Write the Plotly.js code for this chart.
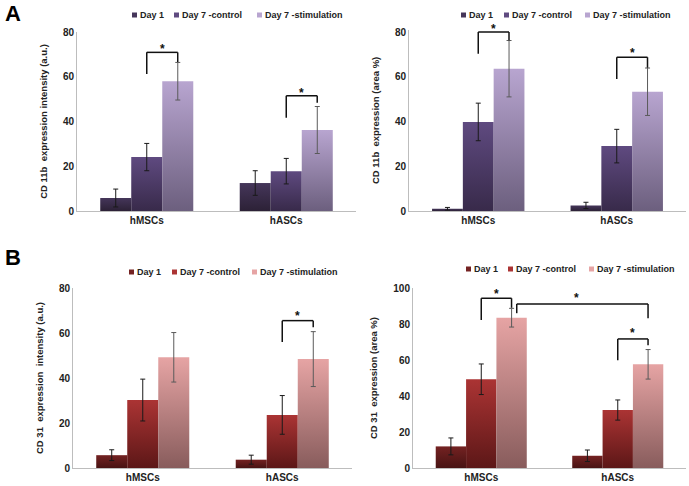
<!DOCTYPE html>
<html><head><meta charset="utf-8">
<script src="https://cdn.plot.ly/plotly-3.0.1.min.js"></script>
<style>html,body{margin:0;padding:0;background:#fff}#chart{width:689px;height:486px}</style>
</head><body><div id="chart"></div>
<script>
// ---------- data ----------
const categories = ['hMSCs', 'hASCs'];
const seriesNames = ['Day 1', 'Day 7 -control', 'Day 7 -stimulation'];

// A (left): CD 11b expression intensity (a.u.)
const cd11bIntDay1 = [5.8, 12.5];
const cd11bIntDay1Err = [4.0, 5.5];
const cd11bIntCtrl = [24.1, 17.8];
const cd11bIntCtrlErr = [6.1, 5.7];
const cd11bIntStim = [58.0, 36.2];
const cd11bIntStimErr = [8.4, 10.5];

// A (right): CD 11b expression (area %)
const cd11bAreaDay1 = [1.0, 2.5];
const cd11bAreaDay1Err = [0.6, 1.4];
const cd11bAreaCtrl = [39.8, 29.0];
const cd11bAreaCtrlErr = [8.4, 7.5];
const cd11bAreaStim = [63.6, 53.3];
const cd11bAreaStimErr = [12.6, 10.6];

// B (left): CD 31 expression intensity (a.u.)
const cd31IntDay1 = [5.7, 3.7];
const cd31IntDay1Err = [2.4, 2.0];
const cd31IntCtrl = [30.2, 23.6];
const cd31IntCtrlErr = [9.3, 8.6];
const cd31IntStim = [49.2, 48.4];
const cd31IntStimErr = [11.0, 12.2];

// B (right): CD 31 expression (area %)
const cd31AreaDay1 = [12.0, 6.8];
const cd31AreaDay1Err = [4.7, 3.2];
const cd31AreaCtrl = [49.3, 32.2];
const cd31AreaCtrlErr = [8.5, 5.6];
const cd31AreaStim = [83.5, 57.6];
const cd31AreaStimErr = [5.2, 8.2];

const yTicks80 = [0, 20, 40, 60, 80];
const yTicks100 = [0, 20, 40, 60, 80, 100];

// significance brackets: [xLeft, xRight, yLeft, yTop, yRight, starX, starY] (category index units, data y)
const sigA1 = [[0, 0.222, 61.2, 70.9, 66.6, 0.111, 73.7], [1, 1.222, 41.7, 51.5, 48.4, 1.111, 54.0]];
const sigA2 = [[0, 0.222, 70.3, 80.0, 76.3, 0.111, 82.4], [1, 1.222, 59.0, 68.7, 64.0, 1.111, 71.6]];
const sigB1 = [[1, 1.222, 56.0, 65.5, 62.6, 1.111, 68.6]];
const sigB2 = [[0, 0.222, 82.2, 94.3, 89.0, 0.111, 98.3], [0.26, 1.222, 86.0, 91.1, 83.2, 0.70, 95.6], [1, 1.222, 59.8, 71.7, 68.2, 1.111, 76.3]];

// ---------- style ----------
const W = 689, H = 486;
const px = x => x / W, py = y => 1 - y / H;
const FONT = 'Liberation Sans, Arial, Helvetica, sans-serif';
const purple = [['#45365a', '#2c2136'], ['#5f4a80', '#382a4a'], ['#b8a5d0', '#6c5f7e']];
const red = [['#742222', '#481313'], ['#ab3434', '#5c1717'], ['#e6a4a4', '#885c5c']];
const errCol = ['#1a1a1a', '#1a1a1a', '#5a5a5a'];

function mkTraces(xa, ya, vals, errs, pal) {
  return vals.map((v, i) => ({
    type: 'bar', name: seriesNames[i], x: categories, y: v, xaxis: xa, yaxis: ya,
    marker: {color: pal[i][0], line: {width: 0}},
    error_y: {type: 'data', array: errs[i], visible: true, color: errCol[i], thickness: 1, width: 2.5},
    showlegend: false, hoverinfo: 'skip'
  }));
}

const traces = [].concat(
  mkTraces('x', 'y', [cd11bIntDay1, cd11bIntCtrl, cd11bIntStim], [cd11bIntDay1Err, cd11bIntCtrlErr, cd11bIntStimErr], purple),
  mkTraces('x2', 'y2', [cd11bAreaDay1, cd11bAreaCtrl, cd11bAreaStim], [cd11bAreaDay1Err, cd11bAreaCtrlErr, cd11bAreaStimErr], purple),
  mkTraces('x3', 'y3', [cd31IntDay1, cd31IntCtrl, cd31IntStim], [cd31IntDay1Err, cd31IntCtrlErr, cd31IntStimErr], red),
  mkTraces('x4', 'y4', [cd31AreaDay1, cd31AreaCtrl, cd31AreaStim], [cd31AreaDay1Err, cd31AreaCtrlErr, cd31AreaStimErr], red)
);

const tickFont = {family: FONT, size: 10, color: '#222', weight: 'bold'};
function xAx(d, anchor) {
  return {domain: d, anchor: anchor, showline: true, linecolor: '#bdbdbd', linewidth: 1, ticks: '',
    showgrid: false, zeroline: false, tickfont: tickFont, fixedrange: true};
}
function yAx(d, anchor, range, tv, title) {
  return {domain: d, anchor: anchor, range: range, tickvals: tv, showline: true, linecolor: '#bdbdbd', linewidth: 1,
    ticks: '', showgrid: false, zeroline: false, tickfont: tickFont, fixedrange: true,
    title: {text: title, font: {family: FONT, size: 9.5, color: '#222', weight: 'bold'}, standoff: 13}};
}

const yDom = {
  y: [py(211), py(32)], y2: [py(211), py(211 - 179 * 81 / 80)], y3: [py(468), py(288)], y4: [py(468), py(288)]
};
const yRng = {y: [0, 80], y2: [0, 81], y3: [0, 80], y4: [0, 100]};

const shapes = [], annotations = [];
function addSig(list, xr, yr) {
  const rng = yRng[yr];
  const pxPerUnit = (yDom[yr][1] - yDom[yr][0]) * H / (rng[1] - rng[0]);
  list.forEach(s => {
    const ln = {type: 'line', xref: xr, yref: yr, line: {color: '#111', width: 1.5}};
    shapes.push(Object.assign({}, ln, {x0: s[0], x1: s[0], y0: s[2], y1: s[3]}));
    shapes.push(Object.assign({}, ln, {x0: s[0], x1: s[1], y0: s[3], y1: s[3]}));
    shapes.push(Object.assign({}, ln, {x0: s[1], x1: s[1], y0: s[3], y1: s[4]}));
    const ys = Math.min(s[6], rng[1]);
    annotations.push({xref: xr, yref: yr, x: s[5], y: ys, yshift: (s[6] - ys) * pxPerUnit - 2.5,
      text: '*', showarrow: false, xanchor: 'center', yanchor: 'middle',
      font: {family: FONT, size: 12, color: '#111', weight: 'bold'}});
  });
}
addSig(sigA1, 'x', 'y');
addSig(sigA2, 'x2', 'y2');
addSig(sigB1, 'x3', 'y3');
addSig(sigB2, 'x4', 'y4');

// custom legends (square + label), positions in pixels
function addLegend(squaresX, yc, pal) {
  squaresX.forEach((sx, i) => {
    shapes.push({type: 'rect', xref: 'paper', yref: 'paper', x0: px(sx), x1: px(sx + 5), y0: py(yc + 2.5), y1: py(yc - 2.5),
      fillcolor: pal[i][0], line: {width: 0}});
    annotations.push({xref: 'paper', yref: 'paper', x: px(sx + 6), y: py(yc), xanchor: 'left', yanchor: 'middle',
      text: seriesNames[i], showarrow: false, font: {family: FONT, size: 9, color: '#222', weight: 'bold'}});
  });
}
addLegend([132, 174, 257], 15, purple);
addLegend([461, 504, 585], 15, purple);
addLegend([129, 172, 252], 272, red);
addLegend([466, 508, 589], 269, red);

annotations.push({xref: 'paper', yref: 'paper', x: px(13), y: py(14), xanchor: 'center', yanchor: 'middle', text: 'A',
  showarrow: false, font: {family: FONT, size: 22, color: '#000', weight: 'bold'}});
annotations.push({xref: 'paper', yref: 'paper', x: px(13), y: py(257), xanchor: 'center', yanchor: 'middle', text: 'B',
  showarrow: false, font: {family: FONT, size: 22, color: '#000', weight: 'bold'}});

const layout = {
  width: W, height: H, margin: {l: 0, r: 0, t: 0, b: 0},
  paper_bgcolor: '#fff', plot_bgcolor: 'rgba(0,0,0,0)', showlegend: false,
  barmode: 'group', bargap: 0.333, bargroupgap: 0,
  font: {family: FONT, color: '#222'},
  xaxis: xAx([px(77), px(356)], 'y'),
  yaxis: yAx(yDom.y, 'x', yRng.y, yTicks80, 'CD 11b  expression intensity (a.u.)'),
  xaxis2: xAx([px(409), px(686)], 'y2'),
  yaxis2: yAx(yDom.y2, 'x2', yRng.y2, yTicks80, 'CD 11b  expression (area %)'),
  xaxis3: xAx([px(73), px(352)], 'y3'),
  yaxis3: yAx(yDom.y3, 'x3', yRng.y3, yTicks80, 'CD 31  expression  intensity (a.u.)'),
  xaxis4: xAx([px(413), px(686)], 'y4'),
  yaxis4: yAx(yDom.y4, 'x4', yRng.y4, yTicks100, 'CD 31  expression (area %)'),
  shapes: shapes, annotations: annotations
};

function applyGradients(gd) {
  const ns = 'http://www.w3.org/2000/svg';
  const svg = gd.querySelector('.main-svg');
  const defs = document.createElementNS(ns, 'defs');
  svg.insertBefore(defs, svg.firstChild);
  const pals = [purple, red];
  pals.forEach((pal, pi) => pal.forEach((c, ci) => {
    const lg = document.createElementNS(ns, 'linearGradient');
    lg.setAttribute('id', 'barGrad' + pi + ci);
    lg.setAttribute('x1', '0'); lg.setAttribute('y1', '0'); lg.setAttribute('x2', '0'); lg.setAttribute('y2', '1');
    [[0, c[0]], [1, c[1]]].forEach(st => {
      const s = document.createElementNS(ns, 'stop');
      s.setAttribute('offset', st[0]); s.setAttribute('stop-color', st[1]);
      lg.appendChild(s);
    });
    defs.appendChild(lg);
  }));
  ['xy', 'x2y2', 'x3y3', 'x4y4'].forEach((sp, si) => {
    const trs = gd.querySelectorAll('.subplot.' + sp + ' .barlayer .trace');
    trs.forEach((t, ti) => {
      t.querySelectorAll('.point path').forEach(p => { p.style.fill = 'url(#barGrad' + (si < 2 ? 0 : 1) + ti + ')'; });
    });
  });
}

Plotly.newPlot('chart', traces, layout, {staticPlot: true, displayModeBar: false}).then(applyGradients);
</script>
</body></html>
